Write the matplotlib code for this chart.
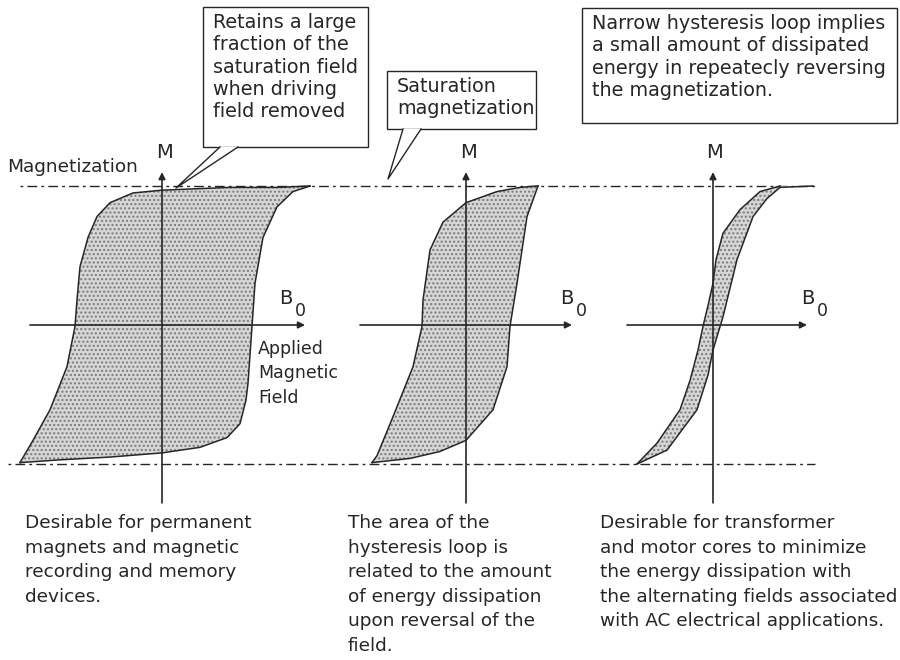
import matplotlib.pyplot as plt
from matplotlib.patches import Rectangle, Polygon
from matplotlib.transforms import Affine2D

# hysteresis loops, H in arbitrary field units, M as fraction of saturation
# "down" branch runs from +saturation to -saturation, "up" branch back again
hard_down_h = [1.48, 1.15, 0.68, 0.0, -0.29, -0.52, -0.65, -0.74, -0.82, -0.85, -0.87, -0.95, -1.12, -1.29, -1.42]
hard_down_m = [1.00, 0.99, 0.99, 0.97, 0.95, 0.88, 0.78, 0.63, 0.42, 0.18, -0.01, -0.30, -0.61, -0.83, -0.99]
hard_up_h = [-1.42, -1.02, -0.52, 0.0, 0.38, 0.65, 0.78, 0.84, 0.86, 0.90, 0.93, 1.01, 1.15, 1.31, 1.48]
hard_up_m = [-0.99, -0.97, -0.95, -0.92, -0.88, -0.81, -0.71, -0.54, -0.42, -0.01, 0.30, 0.63, 0.85, 0.96, 1.00]

mid_down_h = [0.72, 0.54, 0.31, 0.0, -0.23, -0.36, -0.43, -0.44, -0.53, -0.73, -0.89, -0.94]
mid_down_m = [1.00, 0.99, 0.96, 0.88, 0.74, 0.54, 0.18, -0.01, -0.30, -0.66, -0.94, -0.99]
mid_up_h = [-0.94, -0.56, -0.26, 0.0, 0.27, 0.41, 0.44, 0.51, 0.61, 0.68, 0.72]
mid_up_m = [-0.99, -0.96, -0.91, -0.83, -0.61, -0.30, -0.01, 0.30, 0.78, 0.92, 1.00]

soft_down_h = [0.67, 0.47, 0.27, 0.10, 0.03, 0.0, -0.05, -0.10, -0.15, -0.23, -0.33, -0.56, -0.76]
soft_down_m = [1.00, 0.96, 0.83, 0.66, 0.47, 0.30, 0.14, -0.01, -0.18, -0.40, -0.61, -0.85, -1.00]
soft_up_h = [-0.76, -0.46, -0.16, -0.05, 0.0, 0.10, 0.24, 0.40, 0.54, 0.67, 1.0]
soft_up_m = [-1.00, -0.90, -0.61, -0.36, -0.18, 0.06, 0.47, 0.78, 0.91, 0.99, 1.00]

m_sat = 1.0

box_texts = [
    "Retains a large\nfraction of the\nsaturation field\nwhen driving\nfield removed",
    "Saturation\nmagnetization",
    "Narrow hysteresis loop implies\na small amount of dissipated\nenergy in repeatecly reversing\nthe magnetization.",
]
bottom_texts = [
    "Desirable for permanent\nmagnets and magnetic\nrecording and memory\ndevices.",
    "The area of the\nhysteresis loop is\nrelated to the amount\nof energy dissipation\nupon reversal of the\nfield.",
    "Desirable for transformer\nand motor cores to minimize\nthe energy dissipation with\nthe alternating fields associated\nwith AC electrical applications.",
]

# layout (pixels of a 900x660 canvas)
panel_x = [162, 466, 713]
axis_y = 325
h_scale, m_scale = 100, 139
ink = "#262626"

fig = plt.figure(figsize=(9, 6.6), dpi=100)
ax = fig.add_axes([0, 0, 1, 1])
ax.set_xlim(0, 900)
ax.set_ylim(660, 0)
ax.axis("off")


def panel(cx):
    return Affine2D().scale(h_scale, -m_scale).translate(cx, axis_y) + ax.transData


loops = [
    (hard_down_h, hard_down_m, hard_up_h, hard_up_m),
    (mid_down_h, mid_down_m, mid_up_h, mid_up_m),
    (soft_down_h, soft_down_m, soft_up_h, soft_up_m),
]
h_ranges = [(-1.32, 1.43), (-1.06, 1.06), (-0.86, 0.94)]

# saturation lines
y_top = axis_y - m_scale * m_sat
y_bot = axis_y + m_scale * m_sat
ax.plot([20, 815], [y_top, y_top], color=ink, lw=1, dashes=(2, 3, 7, 3), zorder=1)
ax.plot([8, 815], [y_bot, y_bot], color=ink, lw=1, dashes=(2, 3, 7, 3), zorder=1)

for cx, (dh, dm, uh, um), (h0, h1) in zip(panel_x, loops, h_ranges):
    tr = panel(cx)
    ax.fill(dh + uh, dm + um, transform=tr, facecolor="#d6d6d6", hatch="....",
            edgecolor="#7a7a7a", lw=0, zorder=2)
    ax.plot(dh, dm, transform=tr, color=ink, lw=1.1, zorder=3)
    ax.plot(uh, um, transform=tr, color=ink, lw=1.1, zorder=3)
    arrow = dict(arrowstyle="-|>", color=ink, lw=1.2, mutation_scale=10,
                 shrinkA=0, shrinkB=0)
    ax.annotate("", xy=(0, 1.1), xytext=(0, -1.28), xycoords=tr, textcoords=tr,
                arrowprops=arrow, zorder=4)
    ax.annotate("", xy=(h1, 0), xytext=(h0, 0), xycoords=tr, textcoords=tr,
                arrowprops=arrow, zorder=4)
    ax.text(cx + 2, 153, "M", ha="center", va="center", fontsize=14, color=ink)

# B0 labels
for bx in [286, 567, 808]:
    ax.text(bx, 299, "B", ha="center", va="center", fontsize=14, color=ink)
    ax.text(bx + 14, 311, "0", ha="center", va="center", fontsize=12.5, color=ink)

ax.text(7, 167, "Magnetization", ha="left", va="center", fontsize=13.3, color=ink)
ax.text(258, 340, "Applied\nMagnetic\nField", ha="left", va="top", fontsize=12.5,
        color=ink, linespacing=1.45)

# callout boxes
boxes = [(203, 7, 165, 140), (387, 71, 149, 58), (582, 8, 315, 115)]
tails = [[(220, 147), (238, 147), (176, 188)], [(403, 129), (421, 129), (388, 179)], None]
for (bx, by, bw, bh), txt, tail in zip(boxes, box_texts, tails):
    ax.add_patch(Rectangle((bx, by), bw, bh, facecolor="white", edgecolor=ink,
                           lw=1, zorder=5))
    if tail:
        ax.add_patch(Polygon(tail, closed=True, facecolor="white", edgecolor="none",
                             zorder=6))
        ax.plot([tail[0][0], tail[2][0], tail[1][0]], [tail[0][1], tail[2][1], tail[1][1]],
                color=ink, lw=1, zorder=7)
    ax.text(bx + 10, by + 6, txt, ha="left", va="top", fontsize=13.8, color=ink,
            linespacing=1.22, zorder=8)

for tx, txt in zip([25, 348, 600], bottom_texts):
    ax.text(tx, 514, txt, ha="left", va="top", fontsize=13.3, color=ink,
            linespacing=1.47)

fig.savefig("out.png", dpi=100)
